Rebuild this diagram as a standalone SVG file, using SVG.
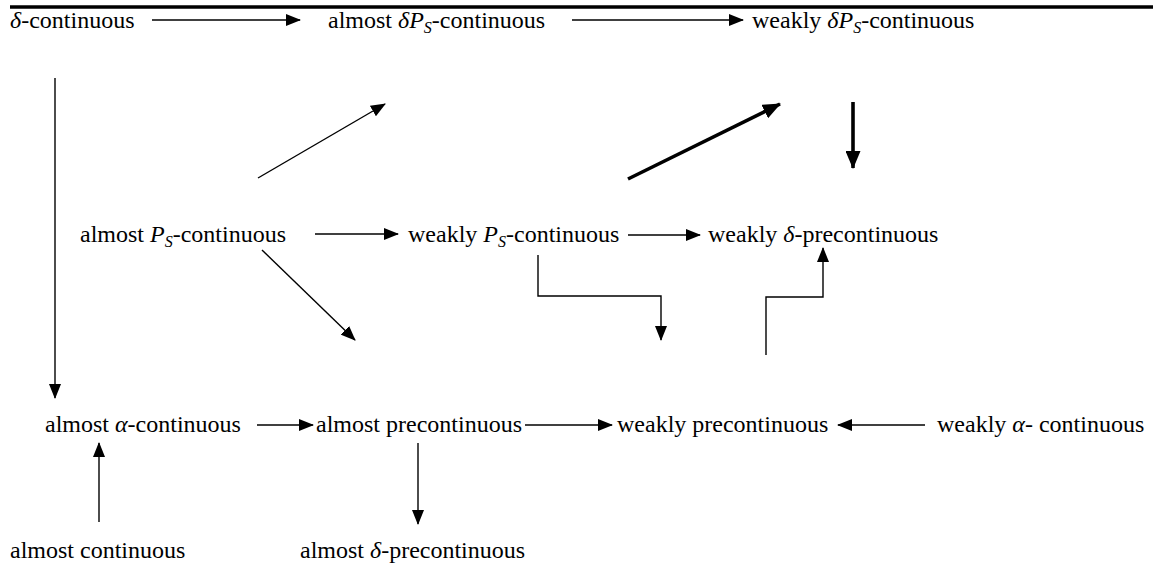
<svg xmlns="http://www.w3.org/2000/svg" width="1153" height="564" viewBox="0 0 1153 564">
  <style>
    text { font-family: "Liberation Serif", "Times New Roman", serif; font-size: 24px; fill: #000; }
    .m { font-style: italic; }
    .sub { font-style: italic; font-size: 16px; }
    .ln { stroke: #000; stroke-width: 1.4; fill: none; marker-end: url(#ah); }
    .thk { stroke: #000; stroke-width: 3.6; fill: none; marker-end: url(#ahb); }
  </style>
  <defs>
    <marker id="ah" markerUnits="userSpaceOnUse" markerWidth="15" markerHeight="12" refX="14" refY="6" orient="auto">
      <path d="M0,0 L15,6 L0,12 z" fill="#000"/>
    </marker>
    <marker id="ahb" markerUnits="userSpaceOnUse" markerWidth="18" markerHeight="15" refX="17" refY="7.5" orient="auto">
      <path d="M0,0 L18,7.5 L0,15 z" fill="#000"/>
    </marker>
  </defs>

  <!-- top rule -->
  <line x1="10" y1="7" x2="1153" y2="7" stroke="#000" stroke-width="3.5"/>

  <!-- nodes -->
  <g id="delta-continuous"><text x="10" y="28"><tspan class="m">δ</tspan>-continuous</text></g>
  <g id="almost-deltaPs-continuous"><text x="328" y="28">almost <tspan class="m">δP</tspan><tspan class="sub" dy="5">S</tspan><tspan dy="-5">-continuous</tspan></text></g>
  <g id="weakly-deltaPs-continuous"><text x="752" y="28">weakly <tspan class="m">δP</tspan><tspan class="sub" dy="5">S</tspan><tspan dy="-5">-continuous</tspan></text></g>
  <g id="almost-Ps-continuous"><text x="80" y="242">almost <tspan class="m">P</tspan><tspan class="sub" dy="5">S</tspan><tspan dy="-5">-continuous</tspan></text></g>
  <g id="weakly-Ps-continuous"><text x="408" y="242">weakly <tspan class="m">P</tspan><tspan class="sub" dy="5">S</tspan><tspan dy="-5">-continuous</tspan></text></g>
  <g id="weakly-delta-precontinuous"><text x="708" y="242">weakly <tspan class="m">δ</tspan>-precontinuous</text></g>
  <g id="almost-alpha-continuous"><text x="45" y="432">almost <tspan class="m">α</tspan>-continuous</text></g>
  <g id="almost-precontinuous"><text x="316" y="432">almost precontinuous</text></g>
  <g id="weakly-precontinuous"><text x="617" y="432">weakly precontinuous</text></g>
  <g id="weakly-alpha-continuous"><text x="937" y="432">weakly <tspan class="m">α</tspan>- continuous</text></g>
  <g id="almost-continuous"><text x="10" y="558">almost continuous</text></g>
  <g id="almost-delta-precontinuous"><text x="300" y="558">almost <tspan class="m">δ</tspan>-precontinuous</text></g>

  <!-- connectors -->
  <g id="connectors">
    <line class="ln" x1="152" y1="20" x2="300" y2="20"/>
    <line class="ln" x1="572" y1="20" x2="743" y2="20"/>
    <line class="ln" x1="55" y1="78" x2="55" y2="398"/>
    <line class="ln" x1="258" y1="178" x2="385" y2="104"/>
    <line class="thk" x1="628" y1="179" x2="780" y2="104"/>
    <line class="thk" x1="853" y1="102" x2="853" y2="168"/>
    <line class="ln" x1="315" y1="234" x2="398" y2="234"/>
    <line class="ln" x1="628" y1="235" x2="700" y2="235"/>
    <line class="ln" x1="262" y1="250" x2="355" y2="340"/>
    <polyline class="ln" points="538,255 538,296 661,296 661,340"/>
    <polyline class="ln" points="766,355 766,297 823,297 823,248"/>
    <line class="ln" x1="257" y1="425" x2="313" y2="425"/>
    <line class="ln" x1="525" y1="425" x2="612" y2="425"/>
    <line class="ln" x1="925" y1="425" x2="838" y2="425"/>
    <line class="ln" x1="99" y1="522" x2="99" y2="443"/>
    <line class="ln" x1="418" y1="443" x2="418" y2="524"/>
  </g>
</svg>
